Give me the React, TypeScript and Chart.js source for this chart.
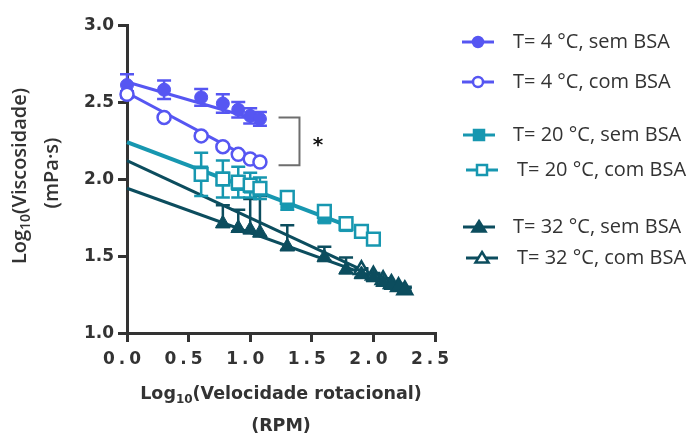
import React, { useEffect, useRef } from "react";
import { Chart, registerables } from "chart.js";

Chart.register(...registerables);

// ---- data: log10 of rotational speed (RPM) and log10 of viscosity (mPa·s) ----
const xTicks = [0, 0.5, 1.0, 1.5, 2.0, 2.5];
const yTicks = [1.0, 1.5, 2.0, 2.5, 3.0];

const rpm4 = [0, 0.301, 0.602, 0.778, 0.903, 1.0, 1.079];
const visc4Sem = [2.61, 2.58, 2.53, 2.49, 2.45, 2.41, 2.39];
const err4Sem = [0.07, 0.06, 0.055, 0.06, 0.05, 0.05, 0.045];
const visc4Com = [2.55, 2.40, 2.28, 2.21, 2.16, 2.13, 2.11];
const err4Com = [0.02, 0.015, 0.015, 0.01, 0.01, 0.01, 0.01];

const rpm20Sem = [0.602, 0.778, 0.903, 1.0, 1.079, 1.301, 1.602, 1.778];
const visc20Sem = [2.04, 2.0, 1.97, 1.95, 1.93, 1.85, 1.75, 1.7];
const err20Sem = [0.04, 0.04, 0.04, 0.03, 0.03, 0.05, 0.03, 0.02];
const rpm20Com = [0.602, 0.778, 0.903, 1.0, 1.079, 1.301, 1.602, 1.778, 1.903, 2.0];
const visc20Com = [2.03, 2.0, 1.98, 1.96, 1.94, 1.88, 1.79, 1.71, 1.66, 1.61];
const err20Com = [0.14, 0.12, 0.1, 0.08, 0.07, 0.04, 0.03, 0.02, 0.01, 0.01];

const rpm32Sem = [0.778, 0.903, 1.0, 1.079, 1.301, 1.602, 1.778, 1.903, 2.0, 2.079, 2.146, 2.204, 2.255];
const visc32Sem = [1.71, 1.68, 1.67, 1.65, 1.56, 1.49, 1.41, 1.38, 1.36, 1.33, 1.31, 1.3, 1.28];
const err32SemUp = [0.12, 0.12, 0.2, 0.24, 0.14, 0.07, 0.08, 0.03, 0.03, 0.02, 0.02, 0.02, 0.02];
const err32SemDown = [0.02, 0.02, 0.02, 0.02, 0.02, 0.02, 0.02, 0.02, 0.02, 0.02, 0.02, 0.02, 0.02];
const rpm32Com = [1.903, 2.0, 2.079, 2.146, 2.204, 2.255];
const visc32Com = [1.41, 1.375, 1.345, 1.32, 1.3, 1.28];
const err32Com = [0.01, 0.01, 0.01, 0.01, 0.01, 0.01];

// linear fits (start / end of each regression line)
const fit4SemX = [0, 1.079];
const fit4SemY = [2.63, 2.38];
const fit4ComX = [0, 1.079];
const fit4ComY = [2.56, 2.1];
const fit20X = [0, 1.778];
const fit20Y = [2.24, 1.7];
const fit32SemX = [0, 2.255];
const fit32SemY = [1.94, 1.29];
const fit32ComX = [0, 2.255];
const fit32ComY = [2.12, 1.28];

// significance bracket between the two 4 °C curves
const bracketX = [1.23, 1.4];
const bracketY = [2.4, 2.09];
const starX = 1.55;
const starY = 2.235;

const legendLabels = [
  "T= 4 °C, sem BSA",
  "T= 4 °C, com BSA",
  "T= 20 °C, sem BSA",
  "T= 20 °C, com BSA",
  "T= 32 °C, sem BSA",
  "T= 32 °C, com BSA",
];

const C4 = "#5656f2";
const C20 = "#1797b0";
const C32 = "#0c4d5e";
const AXIS = "#333333";

const pts = (xs: number[], ys: number[]) => xs.map((x, i) => ({ x, y: ys[i] }));

const errorBars = {
  id: "errorBars",
  beforeDatasetDraw(chart: any, args: any) {
    const ds: any = chart.data.datasets[args.index];
    if (!ds.errPlus) return;
    const ctx = chart.ctx;
    const ys = chart.scales.y;
    ctx.save();
    ctx.strokeStyle = ds.borderColor;
    ctx.lineWidth = 2.5;
    args.meta.data.forEach((p: any, i: number) => {
      const v = ds.data[i].y;
      const top = ys.getPixelForValue(v + ds.errPlus[i]);
      const bot = ys.getPixelForValue(v - ds.errMinus[i]);
      ctx.beginPath();
      ctx.moveTo(p.x, top);
      ctx.lineTo(p.x, bot);
      ctx.moveTo(p.x - 7, top);
      ctx.lineTo(p.x + 7, top);
      ctx.moveTo(p.x - 7, bot);
      ctx.lineTo(p.x + 7, bot);
      ctx.stroke();
    });
    ctx.restore();
  },
};

function drawSubText(ctx: CanvasRenderingContext2D, parts: [string, boolean][], font: string, subFont: string, cx: number, cy: number) {
  let total = 0;
  parts.forEach(([t, sub]) => {
    ctx.font = sub ? subFont : font;
    total += ctx.measureText(t).width;
  });
  let x = cx - total / 2;
  parts.forEach(([t, sub]) => {
    ctx.font = sub ? subFont : font;
    ctx.fillText(t, x, sub ? cy + 6 : cy);
    x += ctx.measureText(t).width;
  });
}

function legendMarker(ctx: CanvasRenderingContext2D, kind: string, filled: boolean, color: string, x: number, y: number) {
  ctx.fillStyle = filled ? color : "#ffffff";
  ctx.strokeStyle = color;
  ctx.lineWidth = 2.5;
  ctx.beginPath();
  if (kind === "circle") {
    ctx.arc(x, y, 5, 0, Math.PI * 2);
  } else if (kind === "rect") {
    ctx.rect(x - 5, y - 5, 10, 10);
  } else {
    ctx.moveTo(x, y - 6);
    ctx.lineTo(x + 6.5, y + 4.5);
    ctx.lineTo(x - 6.5, y + 4.5);
    ctx.closePath();
  }
  ctx.fill();
  ctx.stroke();
}

const decorations = {
  id: "decorations",
  afterDraw(chart: any) {
    const ctx: CanvasRenderingContext2D = chart.ctx;
    const xs = chart.scales.x;
    const ys = chart.scales.y;
    ctx.save();
    ctx.fillStyle = AXIS;
    ctx.textBaseline = "middle";

    // y tick labels
    ctx.font = "bold 17px 'DejaVu Sans'";
    ctx.textAlign = "right";
    yTicks.forEach((v) => ctx.fillText(v.toFixed(1), 114, ys.getPixelForValue(v) + 1));

    // x tick labels (spaced digits)
    ctx.textAlign = "center";
    (ctx as any).letterSpacing = "4px";
    xTicks.forEach((v) => ctx.fillText(v.toFixed(1), xs.getPixelForValue(v) - 3, 360));
    (ctx as any).letterSpacing = "0px";

    // x axis title
    ctx.textAlign = "left";
    drawSubText(
      ctx,
      [["Log", false], ["10", true], ["(Velocidade rotacional)", false]],
      "bold 17.5px 'DejaVu Sans'",
      "bold 12px 'DejaVu Sans'",
      281,
      394
    );
    ctx.textAlign = "center";
    ctx.font = "bold 17.5px 'DejaVu Sans'";
    ctx.fillText("(RPM)", 281, 426);

    // y axis title (rotated)
    ctx.save();
    ctx.translate(20, 176);
    ctx.rotate(-Math.PI / 2);
    ctx.textAlign = "left";
    drawSubText(
      ctx,
      [["Log", false], ["10", true], ["(Viscosidade)", false]],
      "600 20px 'Open Sans'",
      "600 14px 'Open Sans'",
      0,
      0
    );
    ctx.restore();
    ctx.save();
    ctx.translate(52, 173);
    ctx.rotate(-Math.PI / 2);
    ctx.textAlign = "center";
    ctx.font = "600 20px 'Open Sans'";
    ctx.fillText("(mPa·s)", 0, 0);
    ctx.restore();

    // significance bracket
    const bx0 = xs.getPixelForValue(bracketX[0]);
    const bx1 = xs.getPixelForValue(bracketX[1]);
    const by0 = ys.getPixelForValue(bracketY[0]);
    const by1 = ys.getPixelForValue(bracketY[1]);
    ctx.strokeStyle = "#6e6e6e";
    ctx.lineWidth = 2;
    ctx.beginPath();
    ctx.moveTo(bx0, by0);
    ctx.lineTo(bx1, by0);
    ctx.lineTo(bx1, by1);
    ctx.lineTo(bx0, by1);
    ctx.stroke();
    ctx.fillStyle = "#111111";
    ctx.font = "bold 20px 'DejaVu Sans'";
    ctx.textAlign = "center";
    ctx.fillText("*", xs.getPixelForValue(starX), ys.getPixelForValue(starY) + 3);

    // legend
    const rows = [
      { y: 42, color: C4, kind: "circle", filled: true, lx: 462, tx: 513 },
      { y: 82, color: C4, kind: "circle", filled: false, lx: 462, tx: 513 },
      { y: 135, color: C20, kind: "rect", filled: true, lx: 463, tx: 513 },
      { y: 170, color: C20, kind: "rect", filled: false, lx: 466, tx: 517 },
      { y: 227, color: C32, kind: "triangle", filled: true, lx: 463, tx: 513 },
      { y: 258, color: C32, kind: "triangle", filled: false, lx: 466, tx: 517 },
    ];
    rows.forEach((r, i) => {
      ctx.strokeStyle = r.color;
      ctx.lineWidth = 3;
      ctx.beginPath();
      ctx.moveTo(r.lx, r.y);
      ctx.lineTo(r.lx + 32, r.y);
      ctx.stroke();
      legendMarker(ctx, r.kind, r.filled, r.color, r.lx + 16, r.y);
      ctx.fillStyle = "#333333";
      ctx.font = "20px 'Open Sans'";
      ctx.textAlign = "left";
      ctx.textBaseline = "middle";
      ctx.fillText(legendLabels[i], r.tx, r.y);
    });
    ctx.restore();
  },
};

function pointSet(xs: number[], ys: number[], up: number[], down: number[], color: string, style: string, filled: boolean, radius: number) {
  return {
    data: pts(xs, ys),
    errPlus: up,
    errMinus: down,
    showLine: false,
    pointStyle: style,
    pointRadius: radius,
    pointHoverRadius: radius,
    pointBackgroundColor: filled ? color : "#ffffff",
    pointBorderColor: color,
    pointBorderWidth: filled ? 1 : 2.5,
    borderColor: color,
    backgroundColor: color,
    clip: false,
  };
}

function fitLine(xs: number[], ys: number[], color: string, width: number) {
  return {
    data: pts(xs, ys),
    showLine: true,
    pointRadius: 0,
    borderColor: color,
    borderWidth: width,
    clip: false,
  };
}

export default function App() {
  const canvasRef = useRef<HTMLCanvasElement | null>(null);

  useEffect(() => {
    if (!canvasRef.current) return;
    const chart = new Chart(canvasRef.current, {
      type: "scatter",
      data: {
        datasets: [
          pointSet(rpm4, visc4Com, err4Com, err4Com, C4, "circle", false, 6.5),
          pointSet(rpm4, visc4Sem, err4Sem, err4Sem, C4, "circle", true, 6.5),
          pointSet(rpm20Com, visc20Com, err20Com, err20Com, C20, "rect", false, 9),
          pointSet(rpm20Sem, visc20Sem, err20Sem, err20Sem, C20, "rect", true, 9),
          pointSet(rpm32Sem, visc32Sem, err32SemUp, err32SemDown, C32, "triangle", true, 8.5),
          pointSet(rpm32Com, visc32Com, err32Com, err32Com, C32, "triangle", false, 8.5),
          fitLine(fit4ComX, fit4ComY, C4, 3),
          fitLine(fit4SemX, fit4SemY, C4, 3),
          fitLine(fit20X, fit20Y, C20, 4),
          fitLine(fit32SemX, fit32SemY, C32, 3),
          fitLine(fit32ComX, fit32ComY, C32, 3),
        ] as any,
      },
      options: {
        responsive: false,
        animation: false,
        events: [],
        layout: { padding: { left: 0, top: 25, right: 258, bottom: 0 } },
        plugins: { legend: { display: false }, tooltip: { enabled: false } },
        scales: {
          x: {
            type: "linear",
            min: 0,
            max: 2.5,
            afterBuildTicks: (s: any) => {
              s.ticks = xTicks.map((v) => ({ value: v }));
            },
            afterFit: (s: any) => {
              s.height = 102;
            },
            ticks: { display: false },
            grid: { display: true, drawOnChartArea: false, drawTicks: true, tickLength: 9, color: AXIS, lineWidth: 3 },
            border: { display: true, color: AXIS, width: 3 },
          },
          y: {
            type: "linear",
            min: 1,
            max: 3,
            afterBuildTicks: (s: any) => {
              s.ticks = yTicks.map((v) => ({ value: v }));
            },
            afterFit: (s: any) => {
              s.width = 127;
            },
            ticks: { display: false },
            grid: { display: true, drawOnChartArea: false, drawTicks: true, tickLength: 9, color: AXIS, lineWidth: 3 },
            border: { display: true, color: AXIS, width: 3 },
          },
        },
      } as any,
      plugins: [errorBars, decorations],
    });
    return () => chart.destroy();
  }, []);

  return (
    <div style={{ position: "fixed", left: 0, top: 0, width: 693, height: 435, background: "#ffffff" }}>
      <canvas ref={canvasRef} width={693} height={435} style={{ display: "block" }} />
    </div>
  );
}
